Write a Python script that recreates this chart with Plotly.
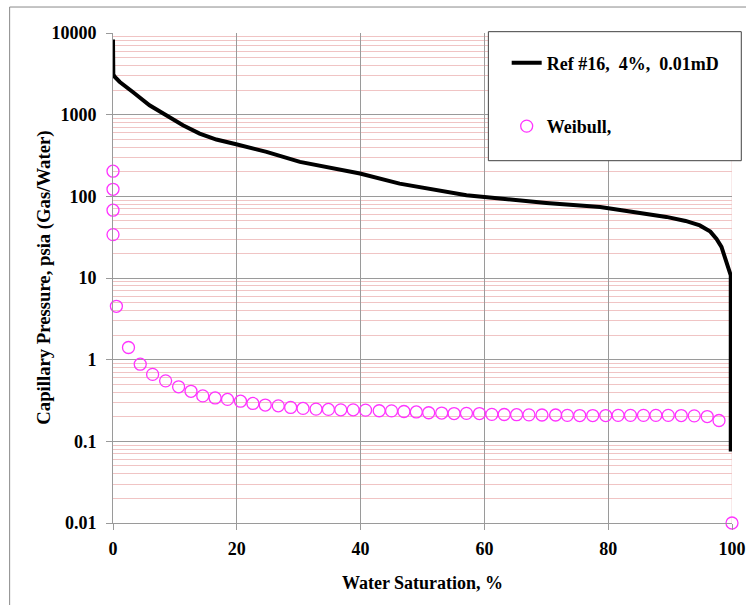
import plotly.graph_objects as go

# Reference capillary-pressure curve (Ref #16, 4%, 0.01 mD)
ref_sw = [0.0, 0.05, 0.3, 1.1, 3.2, 5.9, 8.6, 11.3, 14.0, 16.7, 19.9, 24.8, 30.2,
          35.6, 39.9, 46.3, 51.7, 57.1, 62.5, 70.0, 78.7, 84.0, 89.4, 92.5, 94.8,
          96.5, 97.5, 98.3, 99.1, 99.8, 99.8]
ref_pc = [8300, 3100, 2900, 2512, 1896, 1303, 984, 741, 587, 496, 434, 350, 264,
          219, 190, 143, 121, 103, 94, 83, 74, 65, 56, 50, 44,
          37, 30, 24, 15, 10.8, 0.075]

# Weibull fit points
weib_sw = [0.0, 0.0, 0.0, 0.0, 0.55, 2.5, 4.4, 6.4, 8.5, 10.6, 12.6, 14.5, 16.5,
           18.5, 20.6, 22.6, 24.6, 26.7, 28.7, 30.7, 32.8, 34.8, 36.8, 38.8,
           40.8, 43.0, 45.0, 47.0, 49.0, 51.0, 53.1, 55.1, 57.1, 59.2, 61.2,
           63.2, 65.2, 67.2, 69.3, 71.5, 73.4, 75.4, 77.5, 79.6, 81.6, 83.6,
           85.7, 87.7, 89.7, 91.8, 93.9, 96.0, 97.9, 100.0]
weib_pc = [203, 122, 67.6, 34, 4.5, 1.41, 0.88, 0.66, 0.55, 0.465, 0.41, 0.36,
           0.34, 0.326, 0.31, 0.291, 0.278, 0.272, 0.26, 0.253, 0.248, 0.246,
           0.243, 0.243, 0.241, 0.237, 0.236, 0.232, 0.229, 0.224, 0.222,
           0.219, 0.220, 0.219, 0.214, 0.213, 0.212, 0.211, 0.210, 0.210,
           0.208, 0.207, 0.207, 0.207, 0.208, 0.208, 0.208, 0.208, 0.208,
           0.207, 0.205, 0.201, 0.180, 0.010]

x_ticks = [0, 20, 40, 60, 80, 100]
y_ticks = [0.01, 0.1, 1, 10, 100, 1000, 10000]
y_tick_text = ["0.01", "0.1", "1", "10", "100", "1000", "10000"]

FONT = "Liberation Serif"
GRID = "#9a9a9a"
MINOR = "#f0c4c4"

fig = go.Figure()
fig.add_trace(go.Scatter(
    x=ref_sw, y=ref_pc, mode="lines",
    name="<b>Ref #16,\u00a0 4%,\u00a0 0.01mD</b>",
    line=dict(color="black", width=4),
    legendgroup="ref",
))
fig.add_trace(go.Scatter(
    x=weib_sw, y=weib_pc, mode="markers",
    name="<b>Weibull,</b>",
    marker=dict(symbol="circle-open", size=12, color="#ff33ff",
                line=dict(width=1.3, color="#ff33ff")),
    cliponaxis=False,
    legendgroup="weib",
))

axis_font = dict(family=FONT, size=18, color="black")
legend_font = dict(family=FONT, size=18, color="black")

fig.update_layout(
    width=746, height=605,
    margin=dict(l=113, r=14, t=33, b=82, autoexpand=False),
    paper_bgcolor="white", plot_bgcolor="white",
    font=dict(family=FONT, size=18, color="black"),
    showlegend=True,
    xaxis=dict(
        range=[0, 100], tickvals=x_ticks,
        ticktext=[f"<b>{v}</b>" for v in x_ticks],
        tickfont=axis_font, ticklabelstandoff=3,
        showgrid=True, gridcolor=GRID, gridwidth=1,
        showline=True, linecolor=GRID, linewidth=1,
        ticks="outside", ticklen=6, tickcolor=GRID,
        zeroline=False,
        title=dict(text="<b>Water Saturation, %</b>", font=axis_font, standoff=18),
    ),
    yaxis=dict(
        type="log", range=[-2, 4], tickvals=y_ticks,
        ticktext=[f"<b>{t}</b>" for t in y_tick_text],
        tickfont=axis_font, ticklabelstandoff=6,
        showgrid=True, gridcolor=GRID, gridwidth=1,
        showline=True, linecolor=GRID, linewidth=1,
        ticks="outside", ticklen=6, tickcolor=GRID,
        zeroline=False,
        minor=dict(dtick="D1", showgrid=True, gridcolor=MINOR, gridwidth=1, ticks=""),
    ),
    legend=dict(x=0.636, y=0.9765, xanchor="left", yanchor="top",
                bgcolor="rgba(0,0,0,0)", borderwidth=0, font=legend_font,
                tracegroupgap=37, traceorder="grouped"),
    annotations=[
        dict(text="<b>Capillary Pressure, psia (Gas/Water)</b>", textangle=-90,
             xref="paper", yref="paper", x=-0.112, y=0.5,
             xanchor="center", yanchor="middle", showarrow=False,
             font=dict(family=FONT, size=18.7, color="black")),
    ],
    shapes=[
        # light boundary at 100 %
        dict(type="line", xref="x", yref="paper", x0=100, x1=100, y0=0, y1=1,
             line=dict(color="#f2d4d4", width=1), layer="below"),
        # legend frame
        dict(type="rect", xref="paper", yref="paper",
             x0=0.6064, x1=1.015, y0=0.7394, y1=1.0027,
             line=dict(color="#404040", width=1), fillcolor="white", layer="above"),
        # chart frame
        dict(type="rect", xref="paper", yref="paper",
             x0=-0.167, x1=1.05, y0=-0.2, y1=1.053,
             line=dict(color="#8a8a8a", width=1), fillcolor="rgba(0,0,0,0)",
             layer="below"),
    ],
)

fig.write_html("out.html")
